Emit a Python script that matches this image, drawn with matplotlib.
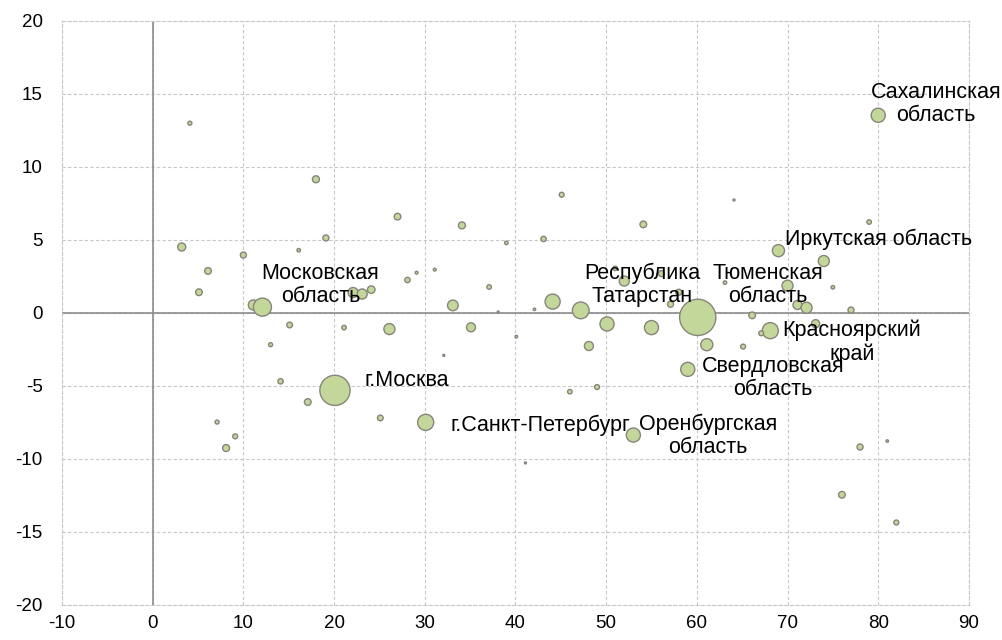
import matplotlib.pyplot as plt

plt.rcParams['font.family'] = ['Liberation Sans', 'DejaVu Sans']
plt.rcParams['axes.unicode_minus'] = False

# bubble data: x, y, bubble size (relative area)
xs = [4.1, 18.0, 19.1, 3.2, 10.0, 16.1, 6.1, 5.1, 11.1, 12.1,
      22.1, 23.1, 24.1, 15.1, 21.1, 13.0, 14.1, 20.1, 17.1, 7.1,
      9.1, 8.1, 27.0, 34.1, 45.1, 54.1, 39.0, 43.1, 29.1, 31.1,
      28.1, 37.1, 33.1, 38.1, 42.1, 44.1, 47.2, 51.0, 52.0, 26.1,
      35.1, 40.1, 50.1, 55.0, 48.1, 32.1, 46.0, 49.0, 25.1, 30.1,
      53.0, 41.1, 80.0, 64.1, 79.0, 69.0, 74.0, 75.0, 70.0, 63.1,
      58.0, 57.1, 71.1, 72.1, 77.0, 60.1, 66.1, 73.1, 68.1, 67.1,
      61.1, 65.1, 59.0, 78.0, 81.0, 76.0, 82.0, 56.1]
ys = [13.0, 9.16, 5.14, 4.52, 3.97, 4.3, 2.88, 1.42, 0.55, 0.4,
      1.4, 1.3, 1.6, -0.82, -1.0, -2.17, -4.68, -5.3, -6.1, -7.47,
      -8.45, -9.25, 6.6, 6.0, 8.1, 6.07, 4.8, 5.07, 2.76, 2.97,
      2.26, 1.78, 0.52, 0.07, 0.25, 0.78, 0.18, 3.06, 2.19, -1.1,
      -0.98, -1.62, -0.75, -1.0, -2.26, -2.9, -5.39, -5.07, -7.19, -7.49,
      -8.36, -10.27, 13.54, 7.74, 6.23, 4.27, 3.56, 1.76, 1.87, 2.08,
      1.42, 0.6, 0.55, 0.36, 0.2, -0.3, -0.16, -0.73, -1.21, -1.39,
      -2.17, -2.3, -3.86, -9.18, -8.77, -12.45, -14.35, 2.7]
sizes = [4, 12, 9, 16, 9, 3, 11, 11, 25, 81,
         25, 25, 14, 8, 5, 4, 7, 225, 11, 4,
         6, 12, 11, 12, 6, 11, 3, 7, 2, 2,
         7, 5, 28, 1, 1.5, 56, 69, 5, 25, 30,
         20, 1.7, 49, 49, 20, 1, 5, 6, 8, 64,
         49, 1, 49, 1, 5, 36, 30, 3, 30, 3,
         9, 9, 20, 30, 9, 324, 11, 16, 64, 6,
         36, 6, 49, 9, 1.5, 11, 6, 9]

# labels: text, x, y
label_texts = ['Сахалинская\nобласть', 'Иркутская область', 'Московская\nобласть',
               'Республика\nТатарстан', 'Тюменская\nобласть', 'Красноярский\nкрай',
               'Свердловская\nобласть', 'Оренбургская\nобласть', 'г.Москва',
               'г.Санкт-Петербург']
label_x = [86.4, 80.0, 18.5, 54.0, 67.8, 77.1, 68.4, 61.2, 28.0, 42.8]
label_y = [14.3, 5.07, 1.92, 1.92, 1.92, -1.99, -4.45, -8.42, -4.59, -7.67]

fig = plt.figure(figsize=(10.03, 6.4), dpi=100)
ax = fig.add_axes([0.0618, 0.0547, 0.9042, 0.9125])

ax.set_xlim(-10, 90)
ax.set_ylim(-20, 20)
ax.set_xticks(range(-10, 91, 10))
ax.set_yticks(range(-20, 21, 5))
ax.grid(True, color='#c8c8c8', linestyle=(0, (3, 2)), linewidth=0.8)
ax.set_axisbelow(True)
for sp in ax.spines.values():
    sp.set_color('#c8c8c8')
    sp.set_linestyle((0, (3, 2)))
    sp.set_linewidth(0.8)
ax.axhline(0, color='#8c8c8c', linewidth=1.2, zorder=1)
ax.axvline(0, color='#8c8c8c', linewidth=1.2, zorder=1)
ax.tick_params(length=0, labelsize=13.5, colors='black')
ax.tick_params(axis='x', pad=7)
ax.tick_params(axis='y', pad=14)

s = [v * 2.1 for v in sizes]
ax.scatter(xs, ys, s=s, facecolor='#c4d79b', edgecolor='#85857a', linewidth=1, zorder=3)

for t, lx, ly in zip(label_texts, label_x, label_y):
    ax.text(lx, ly, t, ha='center', va='center', multialignment='center',
            fontsize=15.5, linespacing=1.15, zorder=4, clip_on=False)

fig.savefig('out.png', dpi=100)
